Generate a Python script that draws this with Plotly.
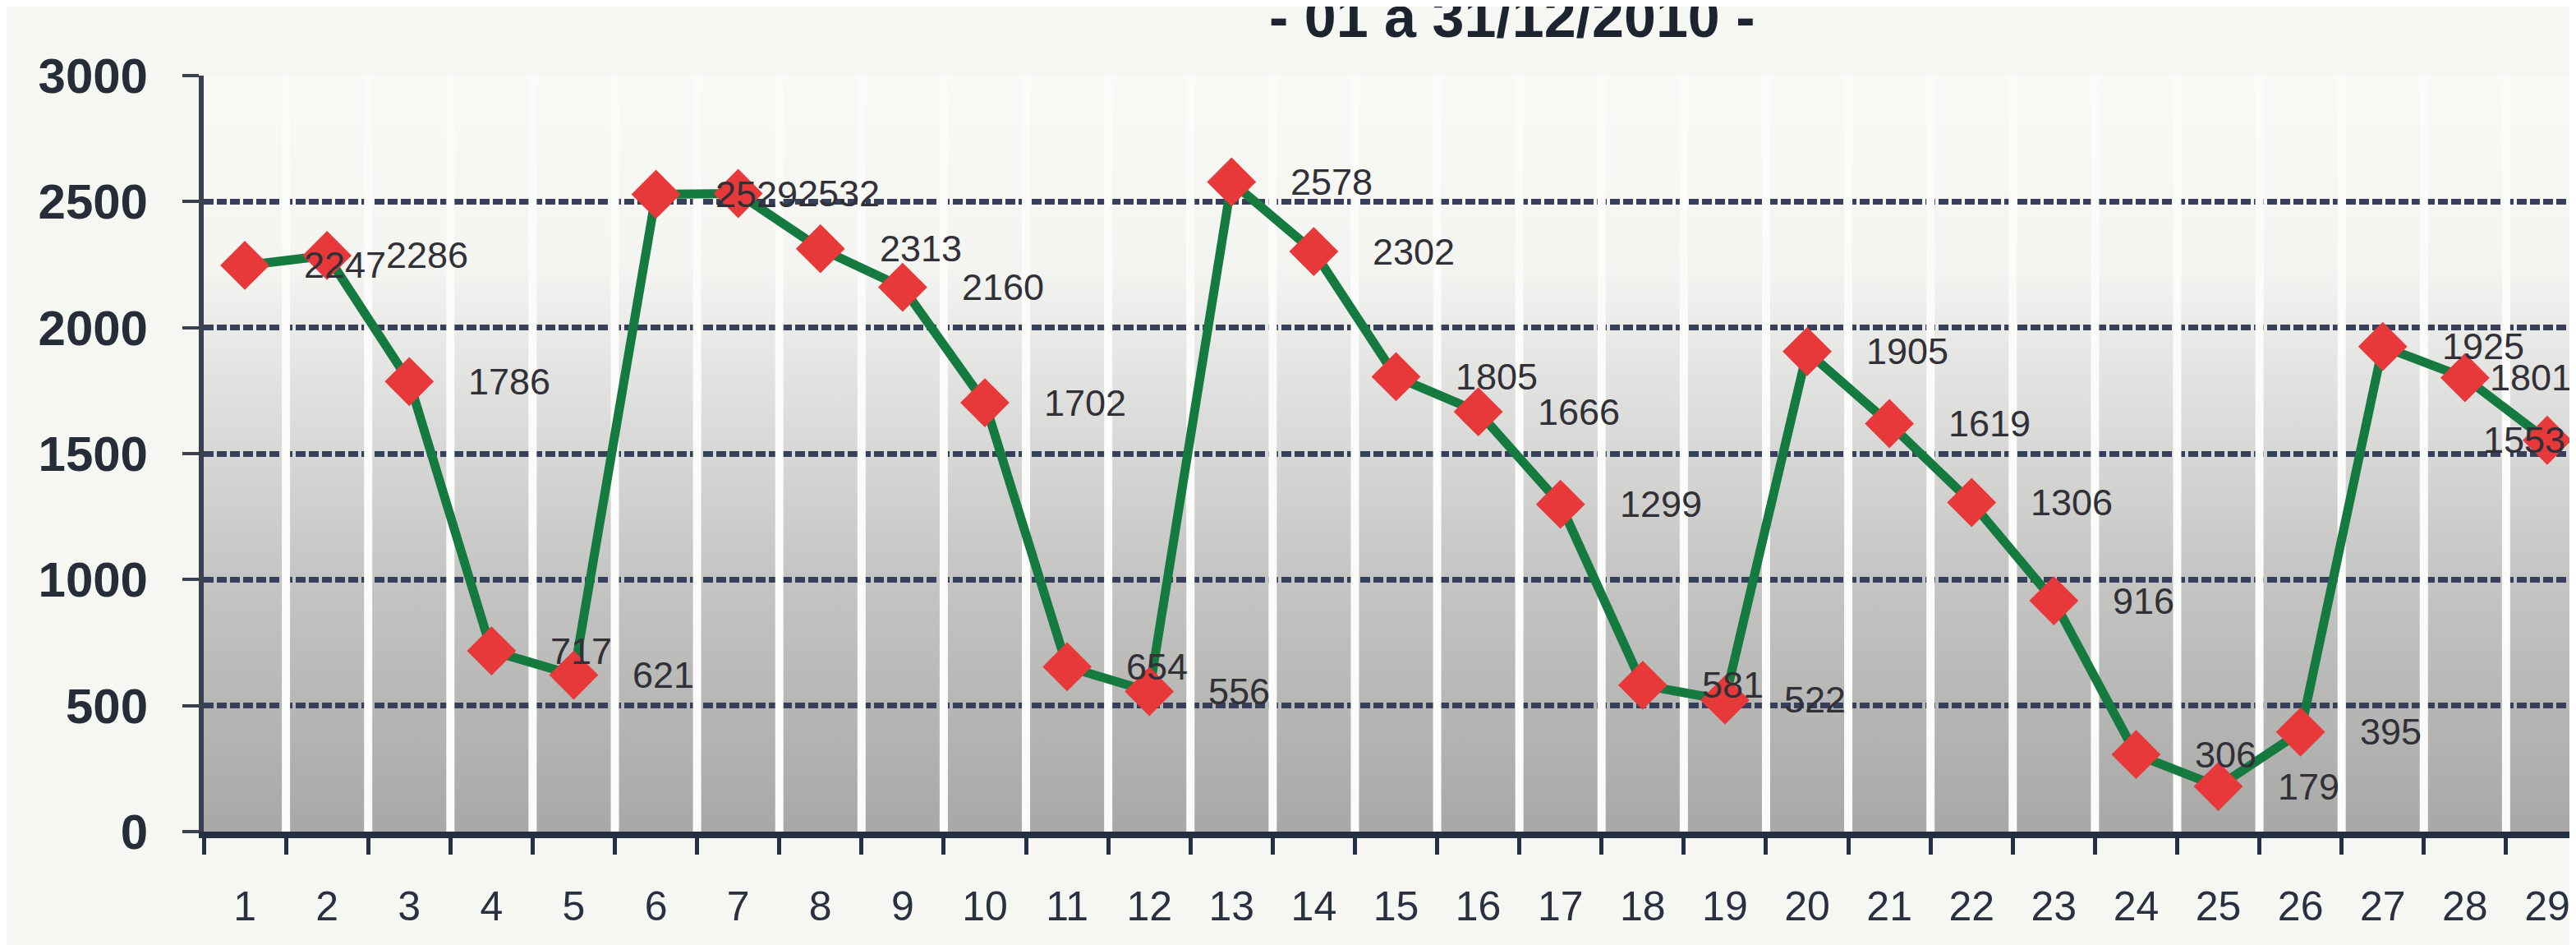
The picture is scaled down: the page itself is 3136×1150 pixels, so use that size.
import base64
import plotly.graph_objects as go

# ---- data -------------------------------------------------------------
days = [str(i) for i in range(1, 30)]
values = [2247, 2286, 1786, 717, 621, 2529, 2532, 2313, 2160, 1702,
          654, 556, 2578, 2302, 1805, 1666, 1299, 581, 522, 1905,
          1619, 1306, 916, 306, 179, 395, 1925, 1801, 1553]
y_ticks = [0, 500, 1000, 1500, 2000, 2500, 3000]
title_text = "- 01 a 31/12/2010 -"

# label horizontal offsets (px) – Excel pushes the last ones inward
label_shift = [70] * len(values)
label_shift[27] = 28
label_shift[28] = -80

W, H = 3136, 1150
ML, MR, MT, MB = 240, 0, 84, 146
FONT = "Liberation Sans, Arial, sans-serif"

# ---- gradient background for the plot area ---------------------------
svg = (
    '<svg xmlns="http://www.w3.org/2000/svg" width="100" height="100" '
    'viewBox="0 0 100 100" preserveAspectRatio="none">'
    '<defs><linearGradient id="g" x1="0" y1="0" x2="0" y2="1">'
    '<stop offset="0" stop-color="#f9f9f6"/>'
    '<stop offset="0.25" stop-color="#f4f4f1"/>'
    '<stop offset="0.42" stop-color="#e0e0de"/>'
    '<stop offset="0.65" stop-color="#c6c6c5"/>'
    '<stop offset="1" stop-color="#a8a8a7"/>'
    '</linearGradient></defs>'
    '<rect x="0" y="0" width="100" height="100" fill="url(#g)"/></svg>'
)
svg_uri = "data:image/svg+xml;base64," + base64.b64encode(svg.encode()).decode()

fig = go.Figure()

fig.add_trace(go.Scatter(
    x=days, y=values, mode="lines+markers",
    line=dict(color="#147a40", width=11),
    marker=dict(symbol="diamond", size=46, color="#e8393a",
                line=dict(width=0)),
    hoverinfo="x+y", showlegend=False,
))

# data labels (x given as category index so "1" is not read as index 1)
for i, (v, s) in enumerate(zip(values, label_shift)):
    fig.add_annotation(
        x=i, y=v, text=str(v), showarrow=False,
        xanchor="left", yanchor="middle", xshift=s,
        font=dict(family=FONT, size=45, color="#303036"),
    )

# white vertical separators at category boundaries (drawn over gridlines)
for i in range(len(days)):
    fig.add_shape(
        type="line", xref="x", yref="y",
        x0=i + 0.5, x1=i + 0.5, y0=0, y1=y_ticks[-1],
        line=dict(color="#fbfbf9", width=10), layer="between",
    )

# title (partially cut at the top, as in the scan)
fig.add_annotation(
    xref="paper", yref="paper", x=(1833 - ML) / (W - ML - MR), y=1.033,
    xanchor="center", yanchor="bottom", showarrow=False,
    text="<b>" + title_text + "</b>",
    font=dict(family=FONT, size=70, color="#1e2330"),
)

fig.update_layout(
    width=W, height=H, autosize=False,
    margin=dict(l=ML, r=MR, t=MT, b=MB, pad=0),
    paper_bgcolor="#f6f6f2",
    plot_bgcolor="rgba(0,0,0,0)",
    images=[dict(source=svg_uri, xref="paper", yref="paper", x=0, y=1,
                 sizex=1, sizey=1, xanchor="left", yanchor="top",
                 sizing="stretch", layer="below")],
    xaxis=dict(
        type="category", range=[-0.5, 28.43],
        showgrid=False, zeroline=False,
        showline=True, linecolor="#243041", linewidth=8,
        ticks="outside", ticklen=20, tickwidth=5, tickcolor="#243041",
        tickson="boundaries", ticklabelstandoff=40,
        tickfont=dict(family=FONT, size=50, color="#2a3040"),
    ),
    yaxis=dict(
        range=[0, 3000], tickvals=y_ticks,
        showgrid=True, gridcolor="#36405a", gridwidth=7,
        griddash="12px,4px",
        zeroline=False,
        showline=True, linecolor="#3a4050", linewidth=6,
        ticks="outside", ticklen=20, tickwidth=4, tickcolor="#3a4050",
        ticklabelstandoff=30,
        tickfont=dict(family=FONT, size=60, color="#262c38", weight="bold"),
    ),
)

fig.write_html("out.html")
